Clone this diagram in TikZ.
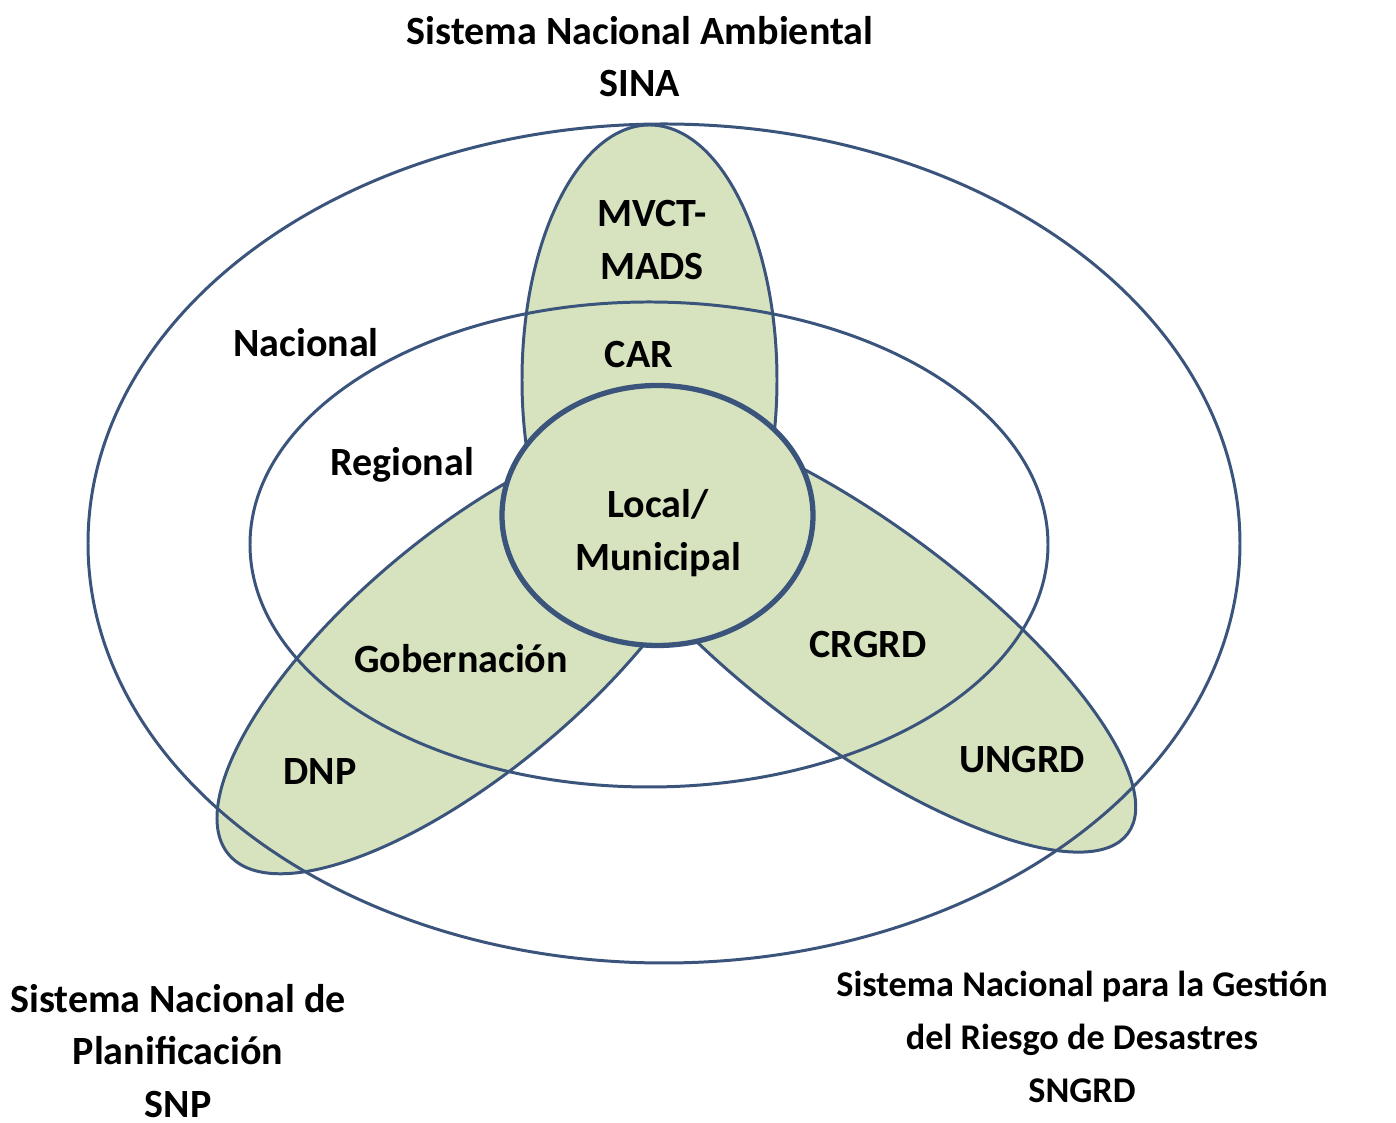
\documentclass[tikz,border=0pt]{standalone}
\usepackage{fontspec}
\setmainfont{Carlito}
\definecolor{petal}{RGB}{215,227,190}
\definecolor{edge}{RGB}{58,84,124}
\tikzset{
  petalfill/.style={fill=petal},
  petaledge/.style={draw=edge, line width=0.85pt},
  ring/.style={draw=edge, line width=0.85pt},
  core/.style={fill=petal, draw=edge, line width=1.5pt},
  lbl/.style={font=\fontsize{11.4}{15}\selectfont\bfseries, align=center, inner sep=0pt, text=black},
  smalllbl/.style={lbl, font=\fontsize{10.3}{15}\selectfont\bfseries}
}
\begin{document}
\begin{tikzpicture}
\useasboundingbox (0,0) rectangle (13.96,11.23);
% petals (fill)
\path[petalfill] (6.495,7.43) ellipse [x radius=1.275, y radius=2.55];
\path[petalfill, rotate around={40:(4.70,4.71)}] (4.70,4.71) ellipse [x radius=3.15, y radius=1.18];
\path[petalfill, rotate around={-36.5:(8.57,4.90)}] (8.57,4.90) ellipse [x radius=3.37, y radius=1.10];
% petal outlines
\path[petaledge] (6.495,7.43) ellipse [x radius=1.275, y radius=2.55];
\path[petaledge, rotate around={40:(4.70,4.71)}] (4.70,4.71) ellipse [x radius=3.15, y radius=1.18];
\path[petaledge, rotate around={-36.5:(8.57,4.90)}] (8.57,4.90) ellipse [x radius=3.37, y radius=1.10];
% levels
\path[ring] (6.64,5.795) ellipse [x radius=5.76, y radius=4.195];
\path[ring] (6.49,5.785) ellipse [x radius=3.99, y radius=2.425];
% local core
\path[core] (6.575,6.075) ellipse [x radius=1.555, y radius=1.30];
% labels
\node[lbl] (sina) at (6.40,10.665) {Sistema Nacional Ambiental\\SINA};
\node[lbl] (mvct) at (6.52,8.83) {MVCT-\\MADS};
\node[lbl] (car) at (6.39,7.68) {CAR};
\node[lbl] (nacional) at (3.06,7.80) {Nacional};
\node[lbl] (regional) at (4.02,6.58) {Regional};
\node[lbl] (local) at (6.58,5.90) {Local/\\Municipal};
\node[lbl] (gob) at (4.61,4.64) {Gobernación};
\node[lbl] (dnp) at (3.20,3.51) {DNP};
\node[lbl] (crgrd) at (8.68,4.78) {CRGRD};
\node[lbl] (ungrd) at (10.22,3.63) {UNGRD};
\node[lbl] (snp) at (1.78,0.72) {Sistema Nacional de\\Planificación\\SNP};
\node[smalllbl] (sngrd) at (10.82,0.86) {Sistema Nacional para la Gestión\\del Riesgo de Desastres\\SNGRD};
\end{tikzpicture}
\end{document}
